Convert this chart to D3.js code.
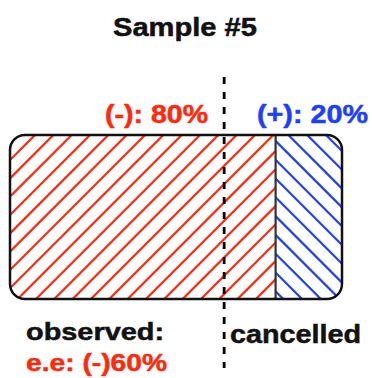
<!DOCTYPE html>
<html>
<head>
<meta charset="utf-8">
<script src="https://cdn.jsdelivr.net/npm/d3@7"></script>
<style>
html,body{margin:0;padding:0;background:#fff;}
svg{display:block;}
text{font-family:"Liberation Sans",Arial,Helvetica,sans-serif;font-weight:bold;}
</style>
</head>
<body>
<script>
// ---- data ----
const title = "Sample #5";
const categories = ["(-)", "(+)"];
const values = [80, 20];               // percentages
const seriesColors = ["#ff2a0e", "#1f3fff"];
const cancelLine = 64.5;               // position of the dashed "cancelled" split
const observedLabel = "observed:";
const eeLabel = "e.e: (-)60%";
const cancelLabel = "cancelled";

(function () {
const W = 372, H = 378;
const svg = d3.select("body").append("svg").attr("width", W).attr("height", H);

const x = d3.scaleLinear().domain([0, 100]).range([10, 342]);
const y = d3.scaleBand().domain(["sample"]).range([135, 299]).padding(0);
const yTop = y("sample"), yBot = y("sample") + y.bandwidth();
const rx = 15;

// stacked segments
let acc = 0;
const segs = categories.map((c, i) => {
  const s = {cat: c, v: values[i], x0: acc, x1: acc + values[i], color: seriesColors[i], i};
  acc += values[i];
  return s;
});

const defs = svg.append("defs");
defs.append("clipPath").attr("id", "boxclip")
  .append("rect").attr("x", x(0)).attr("y", yTop)
  .attr("width", x(100) - x(0)).attr("height", yBot - yTop).attr("rx", rx);

segs.forEach(s => {
  defs.append("clipPath").attr("id", "seg" + s.i)
    .append("rect").attr("x", x(s.x0)).attr("y", yTop - 5)
    .attr("width", x(s.x1) - x(s.x0)).attr("height", yBot - yTop + 10);
});

const gBox = svg.append("g").attr("clip-path", "url(#boxclip)");

// hatch lines
segs.forEach(s => {
  const g = gBox.append("g").attr("clip-path", `url(#seg${s.i})`);
  const lines = [];
  if (s.i === 0) {
    // "/" lines : x + y = c
    const step = 18.33, c0 = 170;
    for (let k = -10; k <= 30; k++) {
      const c = c0 + step * k;
      lines.push([c - 320, 320, c - 110, 110]);
    }
  } else {
    // "\" lines : y - x = c
    const step = 18.8, c0 = -3;
    for (let k = -4; k <= 14; k++) {
      const c = c0 - step * k;
      lines.push([200, 200 + c, 400, 400 + c]);
    }
  }
  g.selectAll("line").data(lines).join("line")
    .attr("x1", d => d[0]).attr("y1", d => d[1])
    .attr("x2", d => d[2]).attr("y2", d => d[3])
    .attr("stroke", s.color).attr("stroke-width", 2.2);
});

// divider between segments
svg.append("line")
  .attr("x1", x(segs[1].x0)).attr("x2", x(segs[1].x0))
  .attr("y1", yTop).attr("y2", yBot)
  .attr("stroke", "#333").attr("stroke-width", 2.2);

// box outline
svg.append("rect").attr("x", x(0)).attr("y", yTop)
  .attr("width", x(100) - x(0)).attr("height", yBot - yTop).attr("rx", rx)
  .attr("fill", "none").attr("stroke", "#111").attr("stroke-width", 2.5);

// dashed cancel line
svg.append("line")
  .attr("x1", x(cancelLine)).attr("x2", x(cancelLine))
  .attr("y1", 77).attr("y2", 368)
  .attr("stroke", "#000").attr("stroke-width", 2.8)
  .attr("stroke-dasharray", "7,8");

function txt(t, xx, yy, size, color, len, anchor) {
  const e = svg.append("text").attr("x", xx).attr("y", yy)
    .attr("font-size", size).attr("fill", color)
    .attr("stroke", color).attr("stroke-width", 0.5).text(t);
  if (anchor) e.attr("text-anchor", anchor);
  if (len) e.attr("textLength", len).attr("lengthAdjust", "spacingAndGlyphs");
  return e;
}

txt(title, 113, 36, 25, "#111", 144);

// segment labels
const labelPos = [{x: 105, len: 103}, {x: 257, len: 111}];
segs.forEach(s => {
  txt(`${s.cat}: ${s.v}%`, labelPos[s.i].x, 123, 25, s.color, labelPos[s.i].len);
});

txt(observedLabel, 26, 340, 24, "#111", 138);
txt(eeLabel, 26, 371, 24, seriesColors[0], 141);
txt(cancelLabel, 230, 343, 25, "#111", 131);
})();
</script>
</body>
</html>
